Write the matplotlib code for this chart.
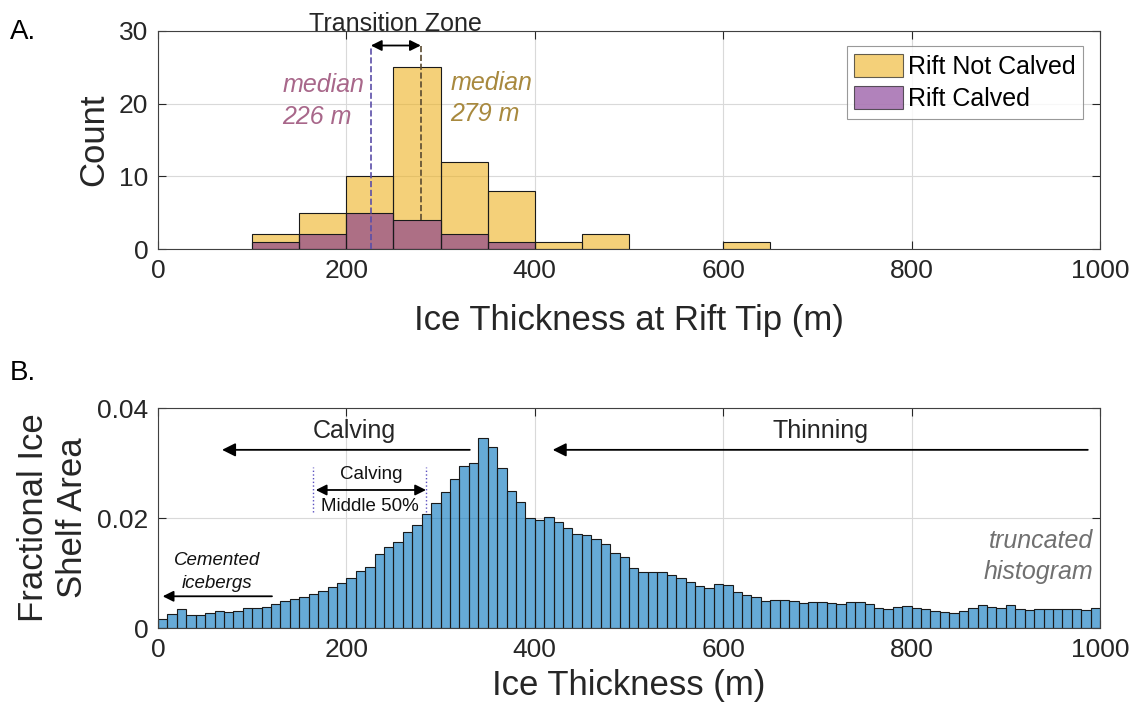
import numpy as np
import matplotlib
matplotlib.use("Agg")
import matplotlib.pyplot as plt
from matplotlib.patches import Patch

plt.rcParams['font.family'] = ['Liberation Sans', 'DejaVu Sans']

#
##  Panel A data: rift tip ice thickness histograms (50 m bins)
#
edges_a = [100, 150, 200, 250, 300, 350, 400, 450, 500, 550, 600, 650]
not_calved = [2, 5, 10, 25, 12, 8, 1, 2, 0, 0, 1]
calved = [1, 2, 5, 4, 2, 1, 0, 0, 0, 0, 0]
median_calved = 226
median_not_calved = 279

#
##  Panel B data: fractional ice shelf area (10 m bins, 0-1000 m)
#
edges_b = np.arange(0, 1010, 10)
frac_area = [
    0.00164, 0.00261, 0.00353, 0.00243, 0.00243, 0.00280, 0.00304, 0.00298, 0.00316, 0.00359,
    0.00359, 0.00389, 0.00438, 0.00486, 0.00529, 0.00565, 0.00626, 0.00669, 0.00748, 0.00827,
    0.00918, 0.01045, 0.01112, 0.01337, 0.01477, 0.01556, 0.01738, 0.01866, 0.02066, 0.02267,
    0.02480, 0.02717, 0.02941, 0.03008, 0.03460, 0.03300, 0.02905, 0.02492, 0.02291, 0.02005,
    0.01957, 0.02018, 0.01920, 0.01811, 0.01714, 0.01683, 0.01610, 0.01531, 0.01373, 0.01294,
    0.01100, 0.01027, 0.01027, 0.01015, 0.00972, 0.00918, 0.00845, 0.00766, 0.00735, 0.00808,
    0.00778, 0.00662, 0.00608, 0.00565, 0.00486, 0.00510, 0.00517, 0.00498, 0.00462, 0.00474,
    0.00474, 0.00462, 0.00444, 0.00474, 0.00474, 0.00444, 0.00365, 0.00346, 0.00389, 0.00401,
    0.00371, 0.00346, 0.00316, 0.00292, 0.00280, 0.00310, 0.00365, 0.00413, 0.00389, 0.00371,
    0.00425, 0.00353, 0.00334, 0.00353, 0.00346, 0.00346, 0.00353, 0.00346, 0.00334, 0.00371,
]
calving_iqr = [164.5, 284.5]

YELLOW = (0.929, 0.694, 0.125)
PURPLE = (0.494, 0.184, 0.556)
BLUE = (0.0, 0.447, 0.741)
EDGE = '#1a1a1a'
AXC = '#404040'


def style_axes(ax):
    ax.grid(True, color='#d9d9d9', linewidth=0.8)
    ax.set_axisbelow(True)
    ax.tick_params(direction='in', length=6, width=0.8, top=True, right=True,
                   labelsize=19, colors='#262626', pad=7)
    for s in ax.spines.values():
        s.set_color(AXC)
        s.set_linewidth(0.8)


fig = plt.figure(figsize=(11.39, 7.17), dpi=100)
axA = fig.add_axes([0.1387, 0.6527, 0.8271, 0.3041])
axB = fig.add_axes([0.1387, 0.1241, 0.8271, 0.3068])

#
##  Panel A
#
wa = np.diff(edges_a)
nc = np.array(not_calved)
cv = np.array(calved)
m = nc > 0
axA.bar(np.array(edges_a[:-1])[m], nc[m], width=wa[m], align='edge', color=YELLOW,
        alpha=0.6, edgecolor='none', zorder=2)
axA.bar(np.array(edges_a[:-1])[m], nc[m], width=wa[m], align='edge', fill=False,
        edgecolor=EDGE, linewidth=0.8, zorder=2.1)
m = cv > 0
axA.bar(np.array(edges_a[:-1])[m], cv[m], width=wa[m], align='edge', color=PURPLE,
        alpha=0.6, edgecolor='none', zorder=3)
axA.bar(np.array(edges_a[:-1])[m], cv[m], width=wa[m], align='edge', fill=False,
        edgecolor=EDGE, linewidth=0.8, zorder=3.1)

axA.plot([median_calved, median_calved], [0, 28], ls='--', color='#5b4ea8', lw=1.2, zorder=4)
axA.plot([median_not_calved, median_not_calved], [4, 28], ls='--', color='#5a4a30', lw=1.2, zorder=4)
axA.annotate('', xy=(median_calved, 28), xytext=(median_not_calved, 28),
             arrowprops=dict(arrowstyle='<|-|>', color='black', lw=1.3, mutation_scale=16,
                             shrinkA=0, shrinkB=0), zorder=5)
axA.text(252, 31.0, 'Transition Zone', ha='center', va='center', fontsize=18, color='#262626')
axA.text(132, 20.4, 'median\n%d m' % median_calved, ha='left', va='center', fontsize=18,
         style='italic', color='#a8678a', linespacing=1.4)
axA.text(310.5, 20.7, 'median\n%d m' % median_not_calved, ha='left', va='center', fontsize=18,
         style='italic', color='#a8893e', linespacing=1.4)

axA.set_xlim(0, 1000)
axA.set_ylim(0, 30)
axA.set_xticks([0, 200, 400, 600, 800, 1000])
axA.set_yticks([0, 10, 20, 30])
style_axes(axA)
axA.set_xlabel('Ice Thickness at Rift Tip (m)', fontsize=25, color='#262626', labelpad=15)
axA.set_ylabel('Count', fontsize=25, color='#262626', labelpad=6)

handles = [Patch(facecolor=YELLOW, alpha=0.6, edgecolor='black', lw=0.8, label='Rift Not Calved'),
           Patch(facecolor=PURPLE, alpha=0.6, edgecolor='black', lw=0.8, label='Rift Calved')]
leg = axA.legend(handles=handles, loc='upper right', bbox_to_anchor=(0.982, 0.931),
                 borderaxespad=0, fontsize=18, frameon=True, fancybox=False,
                 handlelength=1.95, handleheight=1.05, handletextpad=0.2,
                 labelspacing=0.3, borderpad=0.3)
leg.get_frame().set_edgecolor('#808080')
leg.get_frame().set_linewidth(0.8)
for h in leg.legend_handles:
    h.set_edgecolor('black')

#
##  Panel B
#
axB.bar(edges_b[:-1], frac_area, width=np.diff(edges_b), align='edge', color=BLUE,
        alpha=0.6, edgecolor='none', zorder=2)
axB.bar(edges_b[:-1], frac_area, width=np.diff(edges_b), align='edge', fill=False,
        edgecolor=EDGE, linewidth=0.8, zorder=2.1)

arrow = dict(arrowstyle='-|>', color='black', lw=1.3, mutation_scale=20, shrinkA=0, shrinkB=0)
axB.annotate('', xy=(68, 0.0324), xytext=(331, 0.0324), arrowprops=arrow)
axB.annotate('', xy=(419, 0.0324), xytext=(987, 0.0324), arrowprops=arrow)
axB.text(208, 0.0358, 'Calving', ha='center', va='center', fontsize=18, color='#262626')
axB.text(703, 0.0358, 'Thinning', ha='center', va='center', fontsize=18, color='#262626')

for x in calving_iqr:
    axB.plot([x, x], [0.0211, 0.0293], ls=':', color='#5b50c0', lw=1.0, zorder=4)
axB.annotate('', xy=(calving_iqr[0] + 3, 0.0251), xytext=(calving_iqr[1], 0.0251),
             arrowprops=dict(arrowstyle='<|-|>', color='black', lw=1.3, mutation_scale=16,
                             shrinkA=0, shrinkB=0))
axB.text(226, 0.0279, 'Calving', ha='center', va='center', fontsize=13.5, color='#111111')
axB.text(225, 0.0221, 'Middle 50%', ha='center', va='center', fontsize=13.5, color='#111111')

axB.annotate('', xy=(5, 0.00577), xytext=(121, 0.00577),
             arrowprops=dict(arrowstyle='-|>', color='black', lw=1.3, mutation_scale=16,
                             shrinkA=0, shrinkB=0))
axB.text(63, 0.0102, 'Cemented\nicebergs', ha='center', va='center', fontsize=13.5,
         style='italic', color='#111111', linespacing=1.5)
axB.text(993, 0.0130, 'truncated\nhistogram', ha='right', va='center', fontsize=18,
         style='italic', color='#707070', linespacing=1.4)

axB.set_xlim(0, 1000)
axB.set_ylim(0, 0.04)
axB.set_xticks([0, 200, 400, 600, 800, 1000])
axB.set_yticks([0, 0.02, 0.04])
axB.set_yticklabels(['0', '0.02', '0.04'])
style_axes(axB)
axB.set_xlabel('Ice Thickness (m)', fontsize=25, color='#262626', labelpad=5)
axB.set_ylabel('Fractional Ice\nShelf Area', fontsize=25, color='#262626', labelpad=6,
               linespacing=1.2)

fig.text(10 / 1139, 1 - 32 / 717, 'A.', fontsize=20, ha='left', va='center', color='black')
fig.text(10 / 1139, 1 - 373 / 717, 'B.', fontsize=20, ha='left', va='center', color='black')

fig.savefig('out.png', dpi=100)
